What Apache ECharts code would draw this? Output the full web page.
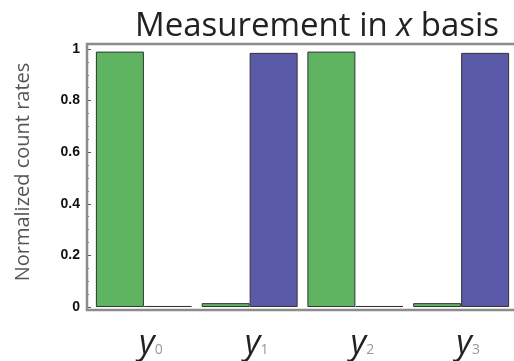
<!DOCTYPE html>
<html><head><meta charset="utf-8">
<script src="https://cdn.jsdelivr.net/npm/echarts@6/dist/echarts.min.js"></script>
<style>html,body{margin:0;padding:0;background:#fff}#c{width:514px;height:361px}</style>
</head><body><div id="c"></div>
<script>
const categories = ['0', '1', '2', '3'];
const greenValues = [0.99, 0.015, 0.99, 0.015];
const blueValues = [0.004, 0.985, 0.004, 0.985];
const yTicks = [0, 0.2, 0.4, 0.6, 0.8, 1];

const chart = echarts.init(document.getElementById('c'), null, {renderer: 'canvas'});
chart.setOption({
  animation: false,
  backgroundColor: '#fff',
  title: {
    text: 'Measurement in {i|x} basis',
    left: 312, top: 5, textAlign: 'center',
    textStyle: {
      fontFamily: 'Open Sans', fontSize: 33, fontWeight: 'normal', color: '#222',
      rich: { i: { fontFamily: 'Open Sans', fontSize: 33, fontStyle: 'italic', color: '#222' } }
    }
  },
  grid: { left: 91, top: 49, width: 432, bottom: 54 },
  graphic: [{
    type: 'rect', shape: { x: 87, y: 44, width: 460, height: 266 },
    style: { fill: 'none', stroke: '#8c8c8c', lineWidth: 2.5 }, z: 10
  }],
  xAxis: {
    type: 'category', data: categories,
    axisLine: { show: false }, axisTick: { show: false },
    axisLabel: {
      margin: 20,
      formatter: v => '{y|y}{s|' + v + '}',
      rich: {
        y: { fontFamily: 'Open Sans', fontSize: 34, fontStyle: 'italic', color: '#222', padding: [0, 0, 0, 14] },
        s: { fontFamily: 'Open Sans', fontSize: 14, color: '#999', verticalAlign: 'bottom', padding: [0, 0, 4, 0] }
      }
    }
  },
  yAxis: {
    type: 'value', min: 0, max: 1, interval: 0.2, offset: 4,
    name: 'Normalized count rates', nameLocation: 'middle', nameGap: 54,
    nameTextStyle: { fontFamily: 'Open Sans', fontSize: 20, color: '#555', padding: [0, 0, 0, 12] },
    axisLine: { show: false },
    splitLine: { show: false },
    axisTick: { show: true, inside: true, length: 4, lineStyle: { color: '#555' } },
    minorTick: { show: true, splitNumber: 4, length: 2, lineStyle: { color: '#777' } },
    axisLabel: {
      margin: 7, fontFamily: 'Liberation Sans', fontWeight: 'bold', fontSize: 14, color: '#111',
      formatter: v => yTicks.indexOf(v) >= 0 ? String(v) : ''
    }
  },
  series: [
    {
      type: 'bar', data: greenValues, barWidth: 48, barGap: '0%',
      itemStyle: { color: '#5fb462', borderColor: '#333', borderWidth: 1 }
    },
    {
      type: 'bar', data: blueValues, barWidth: 48,
      itemStyle: { color: '#5a5aa8', borderColor: '#333', borderWidth: 1 }
    }
  ]
});
</script></body></html>
